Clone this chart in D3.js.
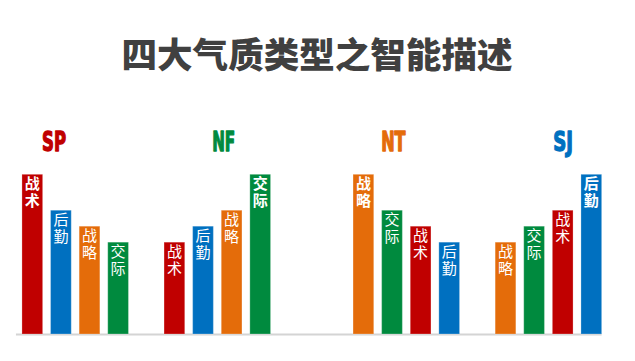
<!DOCTYPE html>
<html>
<head>
<meta charset="utf-8">
<script src="https://cdn.jsdelivr.net/npm/d3@7"></script>
<style>
html,body{margin:0;padding:0;background:#fff;}
svg{display:block;}
</style>
</head>
<body>
<svg id="chart" width="635" height="361"></svg>
<script>
// ---- data ----
const title = "四大气质类型之智能描述";
const groups = ["SP", "NF", "NT", "SJ"];
const halves = ["left", "right"];
const groupHalf = ["left", "left", "right", "right"];
const spLabels = ["战术", "后勤", "战略", "交际"];
const spValues = [40, 31, 27, 23];
const nfLabels = ["战术", "后勤", "战略", "交际"];
const nfValues = [23, 27, 31, 40];
const ntLabels = ["战略", "交际", "战术", "后勤"];
const ntValues = [40, 31, 27, 23];
const sjLabels = ["战略", "交际", "战术", "后勤"];
const sjValues = [23, 27, 31, 40];
const categories = ["战术", "后勤", "战略", "交际"];
const categoryColors = ["#C00000", "#0070C0", "#E46C0A", "#008A3E"];
const groupColors = ["#C00000", "#008A3E", "#E46C0A", "#0070C0"];

const groupData = [
  {g: "SP", labels: spLabels, values: spValues},
  {g: "NF", labels: nfLabels, values: nfValues},
  {g: "NT", labels: ntLabels, values: ntValues},
  {g: "SJ", labels: sjLabels, values: sjValues}
];

// ---- scales ----
const svg = d3.select("#chart");
const color = d3.scaleOrdinal().domain(categories).range(categoryColors);
const gColor = d3.scaleOrdinal().domain(groups).range(groupColors);

const y = d3.scaleLinear().domain([0, 40]).range([334, 174.3]);
const xHalf = d3.scaleBand().domain(halves).range([-19.3, 642.9]).padding(0);
const xGroupInHalf = d3.scaleBand().domain([0, 1]).range([23.45, 307.65]).padding(0);
const xBar = d3.scaleBand().domain(d3.range(4)).range([0, xGroupInHalf.bandwidth()])
  .paddingInner(0.276).paddingOuter(0.622);
const xLabel = d3.scalePoint().domain(groups).range([54, 563]);

function groupX(i) {
  return xHalf(groupHalf[i]) + xGroupInHalf(i % 2);
}

// ---- title ----
svg.append("text")
  .attr("x", 317).attr("y", 68)
  .attr("text-anchor", "middle")
  .attr("font-family", "'Noto Sans CJK SC', 'Noto Sans CJK JP', sans-serif")
  .attr("font-weight", 900)
  .attr("font-size", 35)
  .attr("fill", "#404040")
  .attr("textLength", 391)
  .attr("lengthAdjust", "spacingAndGlyphs")
  .text(title);

// ---- group labels ----
const labelWidths = {SP: 24, NF: 23, NT: 24.4, SJ: 19.7};
svg.selectAll("text.glabel").data(groups).enter().append("text")
  .attr("class", "glabel")
  .attr("x", d => xLabel(d))
  .attr("y", 151)
  .attr("text-anchor", "middle")
  .attr("font-family", "'Liberation Sans Narrow', 'DejaVu Sans Condensed', sans-serif")
  .attr("font-weight", 700)
  .attr("font-size", 27)
  .attr("textLength", d => labelWidths[d])
  .attr("lengthAdjust", "spacingAndGlyphs")
  .attr("fill", d => gColor(d))
  .attr("stroke", d => gColor(d))
  .attr("stroke-width", 1.3)
  .attr("stroke-linejoin", "round")
  .text(d => d);

// ---- baseline ----
const firstX = groupX(0) + xBar(0);
const lastX = groupX(3) + xBar(3) + xBar.bandwidth();
svg.append("line")
  .attr("x1", firstX - 6).attr("x2", lastX)
  .attr("y1", y(0) + 0.5).attr("y2", y(0) + 0.5)
  .attr("stroke", "#d4d4d4").attr("stroke-width", 2);

// ---- bars ----
groupData.forEach((gd, gi) => {
  const maxV = d3.max(gd.values);
  const g = svg.append("g").attr("transform", `translate(${groupX(gi)},0)`);
  const items = gd.values.map((v, i) => ({v, label: gd.labels[i], i, bold: v === maxV}));
  g.selectAll("rect").data(items).enter().append("rect")
    .attr("x", d => xBar(d.i))
    .attr("y", d => y(d.v))
    .attr("width", xBar.bandwidth())
    .attr("height", d => y(0) - y(d.v))
    .attr("fill", d => color(d.label))
    .attr("stroke", "rgba(255,255,255,0.25)")
    .attr("stroke-width", 1);
  g.selectAll("text.blabel").data(items).enter().append("text")
    .attr("class", "blabel")
    .attr("x", d => xBar(d.i) + xBar.bandwidth() / 2)
    .attr("y", d => y(d.v) + 2)
    .style("writing-mode", "vertical-rl")
    .style("letter-spacing", "2px")
    .attr("font-family", "'Noto Sans CJK SC', 'Noto Sans CJK JP', sans-serif")
    .attr("font-weight", d => d.bold ? 700 : 400)
    .attr("font-size", 15)
    .attr("fill", "#fff")
    .text(d => d.label);
});
</script>
</body>
</html>
